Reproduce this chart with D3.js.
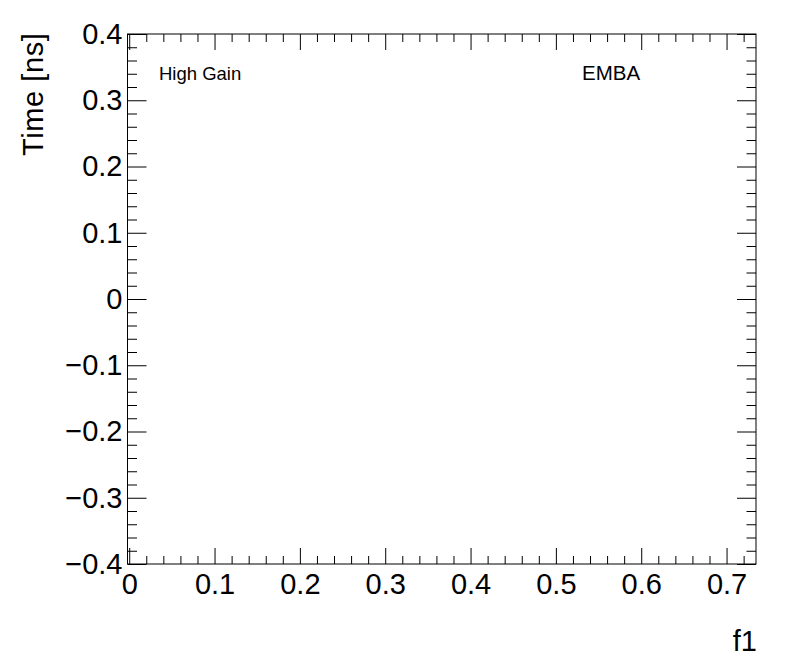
<!DOCTYPE html>
<html>
<head>
<meta charset="utf-8">
<script src="https://cdn.jsdelivr.net/npm/d3@7"></script>
<style>
  body { margin: 0; background: #fff; }
  svg text { font-family: "Liberation Sans", Arial, Helvetica, sans-serif; fill: #000; }
</style>
</head>
<body>
<div id="chart"></div>
<script>
// axis ranges
const xDomain = [-0.002, 0.7345];
const yDomain = [-0.4, 0.4];

// tick values
const xMajorTicks = [0, 0.1, 0.2, 0.3, 0.4, 0.5, 0.6, 0.7];
const xMinorTicks = [0.02, 0.04, 0.06, 0.08, 0.12, 0.14, 0.16, 0.18, 0.22, 0.24, 0.26, 0.28,
  0.32, 0.34, 0.36, 0.38, 0.42, 0.44, 0.46, 0.48, 0.52, 0.54, 0.56, 0.58,
  0.62, 0.64, 0.66, 0.68, 0.72];
const yMajorTicks = [-0.4, -0.3, -0.2, -0.1, 0, 0.1, 0.2, 0.3, 0.4];
const yMinorTicks = [-0.38, -0.36, -0.34, -0.32, -0.28, -0.26, -0.24, -0.22,
  -0.18, -0.16, -0.14, -0.12, -0.08, -0.06, -0.04, -0.02,
  0.02, 0.04, 0.06, 0.08, 0.12, 0.14, 0.16, 0.18,
  0.22, 0.24, 0.26, 0.28, 0.32, 0.34, 0.36, 0.38];

// the graph itself has no points
const points = [];

const labels = ["High Gain", "EMBA"];

const width = 796;
const height = 672;
const margin = { top: 34, right: 40, bottom: 108, left: 127.5 };
const innerW = width - margin.left - margin.right;
const innerH = height - margin.top - margin.bottom;

const svg = d3.select("#chart").append("svg")
  .attr("width", width)
  .attr("height", height);

const g = svg.append("g")
  .attr("transform", `translate(${margin.left},${margin.top})`);

const x = d3.scaleLinear().domain(xDomain).range([0, innerW]);
const y = d3.scaleLinear().domain(yDomain).range([innerH, 0]);

const fmt = (d) => (d === 0 ? "0" : d3.format(".1f")(d).replace("-", "\u2212"));

function styleAxis(sel) {
  sel.select(".domain").remove();
  sel.selectAll(".tick line").attr("stroke", "#000").attr("stroke-width", 1);
  sel.selectAll("text").style("font-size", "29px");
}

// bottom axis: ticks pointing inward
g.append("g")
  .attr("transform", `translate(0,${innerH})`)
  .call(d3.axisBottom(x).tickValues(xMajorTicks).tickSize(-16).tickPadding(9).tickFormat(fmt))
  .call(styleAxis);
g.append("g")
  .attr("transform", `translate(0,${innerH})`)
  .call(d3.axisBottom(x).tickValues(xMinorTicks).tickSize(-8).tickFormat(""))
  .call(styleAxis);

// top axis mirror
g.append("g")
  .call(d3.axisTop(x).tickValues(xMajorTicks).tickSize(-16).tickFormat(""))
  .call(styleAxis);
g.append("g")
  .call(d3.axisTop(x).tickValues(xMinorTicks).tickSize(-8).tickFormat(""))
  .call(styleAxis);

// left axis
g.append("g")
  .call(d3.axisLeft(y).tickValues(yMajorTicks).tickSize(-19).tickPadding(5).tickFormat(fmt))
  .call(styleAxis);
g.append("g")
  .call(d3.axisLeft(y).tickValues(yMinorTicks).tickSize(-9.5).tickFormat(""))
  .call(styleAxis);

// right axis mirror
g.append("g")
  .attr("transform", `translate(${innerW},0)`)
  .call(d3.axisRight(y).tickValues(yMajorTicks).tickSize(-19).tickFormat(""))
  .call(styleAxis);
g.append("g")
  .attr("transform", `translate(${innerW},0)`)
  .call(d3.axisRight(y).tickValues(yMinorTicks).tickSize(-9.5).tickFormat(""))
  .call(styleAxis);

// frame
g.append("rect")
  .attr("width", innerW)
  .attr("height", innerH)
  .attr("fill", "none")
  .attr("stroke", "#000")
  .attr("stroke-width", 1);

g.selectAll(".pt")
  .data(points)
  .enter()
  .append("circle")
  .attr("class", "pt")
  .attr("cx", (d) => x(d.x))
  .attr("cy", (d) => y(d.y))
  .attr("r", 3);

// axis titles
svg.append("text")
  .attr("transform", `translate(43,32.5) rotate(-90)`)
  .attr("text-anchor", "end")
  .style("font-size", "29px")
  .style("letter-spacing", "0.6px")
  .text("Time [ns]");

svg.append("text")
  .attr("x", 757)
  .attr("y", 650.5)
  .attr("text-anchor", "end")
  .style("font-size", "29px")
  .text("f1");

// pad labels
svg.append("text")
  .attr("x", 159)
  .attr("y", 80)
  .style("font-size", "18.5px")
  .text(labels[0]);

svg.append("text")
  .attr("x", 582)
  .attr("y", 80)
  .style("font-size", "20.5px")
  .text(labels[1]);
</script>
</body>
</html>
